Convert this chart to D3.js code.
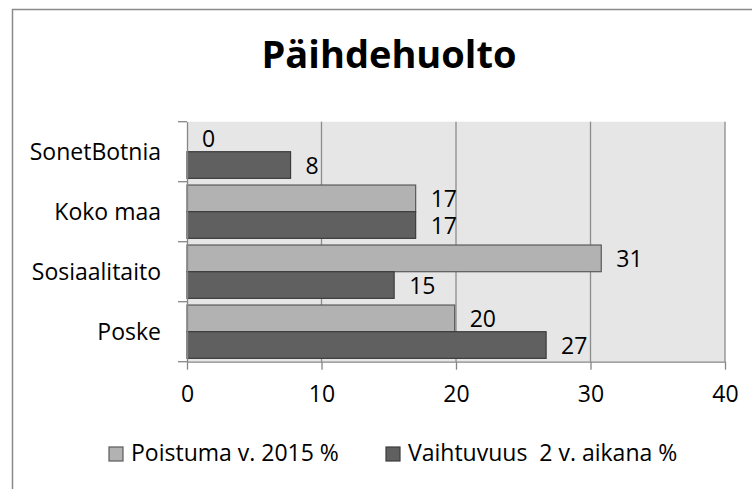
<!DOCTYPE html>
<html>
<head>
	<meta charset="utf-8">
	<title>Päihdehuolto</title>
	<style>
		body{ margin:0; background:#fff; }
		svg{ display:block; }
		text{ font-family: "Open Sans", sans-serif; fill:#000; }
		.grid line{ stroke:#8c8c8c; stroke-width:1.3; }
		.axis path, .axis line{ stroke:#868686; stroke-width:1.3; }
		.axis text{ font-size:23px; font-family: "Open Sans", sans-serif; }
		.lbl{ font-size:23px; }
	</style>
	<script src="https://cdn.jsdelivr.net/npm/d3@7"></script>
</head>
<body>
<svg width="752" height="489"></svg>
<script>
	// data
	var categories = ["SonetBotnia", "Koko maa", "Sosiaalitaito", "Poske"];
	var seriesNames = ["Poistuma v. 2015 %", "Vaihtuvuus  2 v. aikana %"];
	var poistuma = [0, 17, 30.8, 19.9];
	var vaihtuvuus = [7.7, 17, 15.4, 26.7];
	var xTicks = [0, 10, 20, 30, 40];

	var fills = ["#b2b2b2", "#606060"];
	var strokes = ["#5a5a5a", "#3c3c3c"];

	var svg = d3.select("svg");

	// chart frame
	svg.append("rect")
	   .attr("x", 12.5).attr("y", 9.5)
	   .attr("width", 800).attr("height", 520)
	   .attr("fill", "none")
	   .attr("stroke", "#8a8a8a")
	   .attr("stroke-width", 1.5);

	svg.append("text")
	   .attr("x", 389).attr("y", 68)
	   .attr("text-anchor", "middle")
	   .style("font-size", "38px")
	   .style("font-weight", "bold")
	   .text("Päihdehuolto");

	var x = d3.scaleLinear().domain([0, 40]).range([187, 725]);
	var y = d3.scaleBand().domain(categories).range([121.7, 361.7]).padding(0);
	var inner = d3.scaleBand().domain([0, 1]).range([0, y.bandwidth()]).paddingOuter(0.125).paddingInner(0);

	// plot background
	svg.append("rect")
	   .attr("x", x(0)).attr("y", y.range()[0])
	   .attr("width", x(40) - x(0)).attr("height", y.range()[1] - y.range()[0])
	   .attr("fill", "#e6e6e6");

	svg.append("g").attr("class", "grid")
	   .selectAll("line").data(xTicks.slice(1))
	   .enter().append("line")
	   .attr("x1", d => x(d)).attr("x2", d => x(d))
	   .attr("y1", y.range()[0]).attr("y2", y.range()[1]);

	var rows = categories.map((c, i) => ({cat: c, vals: [poistuma[i], vaihtuvuus[i]]}));

	var grp = svg.append("g").selectAll("g").data(rows)
	   .enter().append("g")
	   .attr("transform", d => "translate(0," + y(d.cat) + ")");

	grp.selectAll("rect").data(d => d.vals)
	   .enter().append("rect")
	   .attr("x", x(0))
	   .attr("y", (d, i) => inner(i))
	   .attr("width", d => x(d) - x(0))
	   .attr("height", inner.bandwidth())
	   .attr("fill", (d, i) => fills[i])
	   .attr("stroke", (d, i) => d > 0 ? strokes[i] : "none")
	   .attr("stroke-width", 1.2);

	grp.selectAll("text").data(d => d.vals)
	   .enter().append("text")
	   .attr("class", "lbl")
	   .attr("x", d => x(d) + 15)
	   .attr("y", (d, i) => inner(i) + inner.bandwidth() / 2 + 9)
	   .text(d => Math.round(d));

	// x axis
	svg.append("g").attr("class", "axis")
	   .attr("transform", "translate(0," + y.range()[1] + ")")
	   .call(d3.axisBottom(x).tickValues(xTicks).tickSize(8).tickPadding(16).tickSizeOuter(0));

	// y axis: labels only, boundary ticks drawn below
	var yAxis = svg.append("g").attr("class", "axis")
	   .attr("transform", "translate(" + x(0) + ",0)")
	   .call(d3.axisLeft(y).tickSize(0).tickPadding(26).tickSizeOuter(0));
	yAxis.selectAll("text").attr("dy", "0.36em");
	var bounds = categories.map(c => y(c)).concat([y.range()[1]]);
	yAxis.selectAll(".bound").data(bounds)
	   .enter().append("line")
	   .attr("class", "bound")
	   .attr("x1", -9).attr("x2", 0)
	   .attr("y1", d => d).attr("y2", d => d);

	// legend
	var legX = [109, 386];
	var leg = svg.append("g").selectAll("g").data(seriesNames)
	   .enter().append("g")
	   .attr("transform", (d, i) => "translate(" + legX[i] + ",447)");
	leg.append("rect")
	   .attr("width", 14).attr("height", 14)
	   .attr("fill", (d, i) => fills[i])
	   .attr("stroke", (d, i) => strokes[i])
	   .attr("stroke-width", 1.2);
	leg.append("text")
	   .attr("class", "lbl")
	   .attr("x", 22).attr("y", 14)
	   .attr("xml:space", "preserve")
	   .text(d => d);
</script>
</body>
</html>
